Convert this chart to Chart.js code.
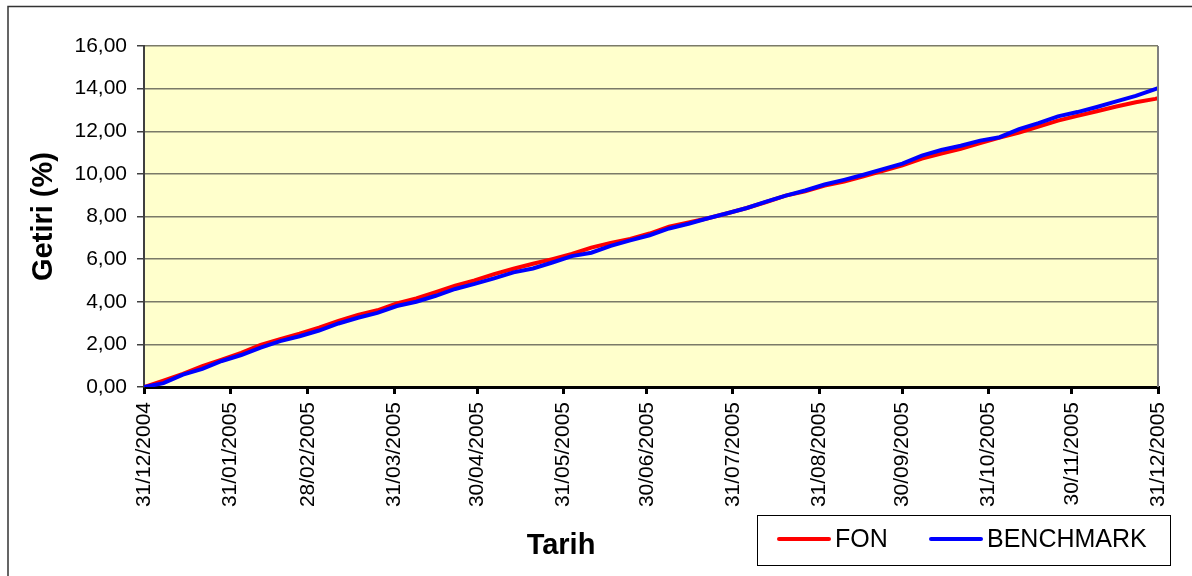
<!DOCTYPE html>
<html lang="tr">
<head>
  <meta charset="UTF-8" />
  <title>Getiri - FON / BENCHMARK</title>
  <script src="https://cdn.jsdelivr.net/npm/chart.js"></script>
  <style>
    body { margin: 0; background: #fff; }
    canvas { display: block; }
  </style>
</head>
<body>
  <canvas id="getiriChart" width="1192" height="576"></canvas>

  <script>
    // day number counted from 31/12/2004, weekly readings
    const days = [0, 7, 14, 21, 28, 35, 42, 49, 56, 63, 70, 77, 84, 91, 98, 105, 112, 119, 126, 133,
      140, 147, 154, 161, 168, 175, 182, 189, 196, 203, 210, 217, 224, 231, 238, 245, 252, 259, 266,
      273, 280, 287, 294, 301, 308, 315, 322, 329, 336, 343, 350, 357, 364, 365];

    const fon = [0.00, 0.30, 0.62, 0.98, 1.28, 1.60, 1.98, 2.25, 2.50, 2.78, 3.10, 3.38, 3.60, 3.92,
      4.16, 4.45, 4.76, 5.00, 5.30, 5.55, 5.78, 6.00, 6.24, 6.54, 6.76, 6.95, 7.20, 7.52, 7.72, 7.92,
      8.15, 8.40, 8.68, 8.98, 9.18, 9.45, 9.64, 9.88, 10.14, 10.40, 10.72, 10.95, 11.18, 11.44, 11.70,
      11.94, 12.22, 12.50, 12.72, 12.94, 13.16, 13.36, 13.52, 13.55];

    const benchmark = [0.00, 0.18, 0.58, 0.85, 1.22, 1.50, 1.85, 2.15, 2.38, 2.65, 2.98, 3.25, 3.48, 3.80,
      4.00, 4.28, 4.60, 4.84, 5.10, 5.38, 5.56, 5.84, 6.14, 6.30, 6.62, 6.88, 7.12, 7.44, 7.66, 7.92,
      8.15, 8.40, 8.70, 8.98, 9.22, 9.50, 9.72, 9.96, 10.22, 10.48, 10.86, 11.12, 11.32, 11.56, 11.72,
      12.10, 12.38, 12.70, 12.90, 13.14, 13.40, 13.66, 13.98, 14.02];

    const tickDays = [0, 31, 59, 90, 120, 151, 181, 212, 243, 273, 304, 334, 365];
    const tickLabels = ['31/12/2004', '31/01/2005', '28/02/2005', '31/03/2005', '30/04/2005',
      '31/05/2005', '30/06/2005', '31/07/2005', '31/08/2005', '30/09/2005', '31/10/2005',
      '30/11/2005', '31/12/2005'];

    const FONT = 'Arial, "Liberation Sans", sans-serif';

    // background, frame, x title and boxed legend like the Excel original
    const excelLook = {
      id: 'excelLook',
      beforeDraw(chart) {
        const { ctx, chartArea: a } = chart;
        ctx.save();
        ctx.fillStyle = '#ffffff';
        ctx.fillRect(0, 0, chart.width, chart.height);
        ctx.fillStyle = '#ffffcc';
        ctx.fillRect(a.left, a.top, a.right - a.left, a.bottom - a.top);
        ctx.restore();
      },
      afterDraw(chart) {
        const { ctx, chartArea: a } = chart;
        ctx.save();

        // outer frame (left and top edges are visible)
        ctx.strokeStyle = '#333333';
        ctx.lineWidth = 1.5;
        ctx.beginPath();
        ctx.moveTo(8, chart.height);
        ctx.lineTo(8, 6.5);
        ctx.lineTo(chart.width, 6.5);
        ctx.stroke();

        // right edge of plot area
        ctx.strokeStyle = '#808080';
        ctx.lineWidth = 2;
        ctx.beginPath();
        ctx.moveTo(a.right, a.top);
        ctx.lineTo(a.right, a.bottom);
        ctx.stroke();

        // x axis title
        ctx.fillStyle = '#000';
        ctx.font = 'bold 29px ' + FONT;
        ctx.textAlign = 'center';
        ctx.textBaseline = 'middle';
        ctx.fillText('Tarih', 561, 546);

        // legend box
        ctx.fillStyle = '#fff';
        ctx.fillRect(757, 515, 413, 50);
        ctx.strokeStyle = '#000';
        ctx.lineWidth = 1;
        ctx.strokeRect(757.5, 515.5, 413, 50);

        const items = [chart.data.datasets[0], chart.data.datasets[1]];
        const starts = [779, 931];
        ctx.font = '25px ' + FONT;
        ctx.textAlign = 'left';
        items.forEach((ds, i) => {
          ctx.strokeStyle = ds.borderColor;
          ctx.lineWidth = 4;
          ctx.lineCap = 'round';
          ctx.beginPath();
          ctx.moveTo(starts[i], 539);
          ctx.lineTo(starts[i] + 50, 539);
          ctx.stroke();
          ctx.fillStyle = '#000';
          ctx.fillText(ds.label, starts[i] + 56, 540);
        });
        ctx.restore();
      }
    };

    const ctx = document.getElementById('getiriChart').getContext('2d');
    new Chart(ctx, {
      type: 'line',
      data: {
        datasets: [
          {
            label: 'FON',
            data: days.map((d, i) => ({ x: d, y: fon[i] })),
            borderColor: '#ff0000',
            borderWidth: 4,
            pointRadius: 0,
            tension: 0,
            order: 2
          },
          {
            label: 'BENCHMARK',
            data: days.map((d, i) => ({ x: d, y: benchmark[i] })),
            borderColor: '#0000ff',
            borderWidth: 4,
            pointRadius: 0,
            tension: 0,
            order: 1
          }
        ]
      },
      options: {
        responsive: false,
        animation: false,
        layout: { padding: { left: 0, top: 46, right: 34, bottom: 0 } },
        plugins: {
          legend: { display: false },
          tooltip: { enabled: false }
        },
        scales: {
          x: {
            type: 'linear',
            min: 0,
            max: 365,
            afterBuildTicks: (scale) => { scale.ticks = tickDays.map(v => ({ value: v })); },
            afterFit: (scale) => { scale.height = 189; },
            ticks: {
              autoSkip: false,
              minRotation: 90,
              maxRotation: 90,
              padding: 8,
              color: '#000',
              font: { family: FONT, size: 21 },
              callback: (value, index) => tickLabels[index]
            },
            grid: {
              drawOnChartArea: false,
              tickLength: 7,
              tickColor: '#000',
              lineWidth: 3
            },
            border: { color: '#000', width: 3 }
          },
          y: {
            min: 0,
            max: 16,
            afterFit: (scale) => { scale.width = 144; },
            ticks: {
              stepSize: 2,
              padding: 10,
              color: '#000',
              font: { family: FONT, size: 21 },
              callback: (value) => value.toFixed(2).replace('.', ',')
            },
            grid: {
              color: '#7a7a68',
              lineWidth: 1.5,
              tickLength: 7,
              tickColor: '#404040'
            },
            border: { color: '#404040', width: 2 },
            title: {
              display: true,
              text: 'Getiri (%)',
              color: '#000',
              font: { family: FONT, size: 29, weight: 'bold' },
              padding: { top: 27, bottom: 0 }
            }
          }
        }
      },
      plugins: [excelLook]
    });
  </script>
</body>
</html>
